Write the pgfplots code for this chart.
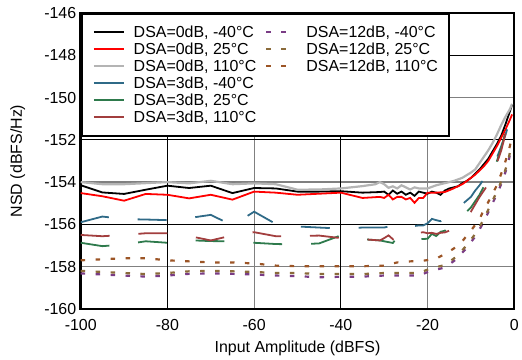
\documentclass[border=0pt]{standalone}
\usepackage{fontspec}
\setmainfont{Liberation Sans}
\usepackage{pgfplots}
\pgfplotsset{compat=1.18}
\definecolor{c3a}{HTML}{2F6A87}
\definecolor{c3b}{HTML}{2E7A4C}
\definecolor{c3c}{HTML}{A23E3E}
\definecolor{c12a}{HTML}{7A3C85}
\definecolor{c12b}{HTML}{8A6A3A}
\definecolor{c12c}{HTML}{9C5526}
\definecolor{gline}{HTML}{B4B4B4}
\definecolor{ggrid}{HTML}{808080}
\begin{document}
\begin{tikzpicture}
\begin{axis}[
  scale only axis, width=435pt, height=297pt,
  at={(0,0)}, anchor=south west,
  xmin=-100, xmax=0, ymin=-160, ymax=-146,
  xtick={-100,-80,...,0}, ytick={-160,-158,...,-146},
  major tick length=0pt,
  /pgf/number format/assume math mode=true,
  tick label style={font=\fontsize{16}{18}\selectfont},
  xticklabel style={yshift=-7pt},
  yticklabel style={xshift=-1pt},
  xlabel={Input Amplitude (dBFS)}, ylabel={NSD (dBFS/Hz)},
  every axis x label/.style={at={(axis description cs:0.5,0)}, yshift=-40pt, anchor=center, font=\fontsize{16}{18}\selectfont},
  every axis y label/.style={at={(axis description cs:-0.145,0.5)}, rotate=90, anchor=center, font=\fontsize{16}{18}\selectfont},
  axis line style={line width=2.5pt},
  grid=major, major grid style={ggrid, line width=1.2pt},
  extra x ticks={-80,-40}, extra x tick labels={},
  extra y ticks={-156,-152,-148}, extra y tick labels={},
  extra tick style={grid=major, major grid style={black, line width=0.9pt}},
  legend style={at={(rel axis cs:0,1)}, anchor=north west, draw=black, line width=2pt,
    fill=white, font=\fontsize{16}{17}\selectfont, inner xsep=11pt, inner ysep=10pt,
    nodes={inner sep=0pt, text height=14pt, text depth=3pt},
    column sep=9pt},
  legend cell align=left,
  legend columns=2,
  legend image code/.code={\draw[#1] (0pt,0pt) -- (30pt,0pt);},
]
% 0dB -40C
\addplot[forget plot, color=black, line width=1.8pt] table {
-100 -154.15
-95 -154.49
-90 -154.56
-85 -154.36
-80 -154.17
-75 -154.28
-70 -154.17
-65 -154.52
-60 -154.28
-55 -154.3
-50 -154.45
-45 -154.45
-40 -154.43
-35 -154.5
-31 -154.47
-30 -154.45
-29 -154.6
-28 -154.4
-27 -154.55
-26 -154.45
-25 -154.6
-24 -154.5
-23 -154.65
-22 -154.45
-21 -154.5
-20 -154.55
-19 -154.45
-18 -154.5
-17 -154.6
-16 -154.4
-15 -154.3
-14 -154.25
-13 -154.2
-12 -154.05
-11 -153.95
-10 -153.8
-9 -153.6
-8 -153.4
-7 -153.15
-6 -152.9
-5 -152.55
-4 -152.2
-3 -151.8
-2 -151.25
-1 -150.65
-0.5 -150.35
};
% 0dB 25C
\addplot[forget plot, color=red, line width=1.8pt] table {
-100 -154.52
-95 -154.67
-90 -154.88
-85 -154.56
-80 -154.6
-75 -154.77
-70 -154.6
-65 -154.83
-60 -154.45
-55 -154.5
-50 -154.6
-45 -154.55
-40 -154.5
-35 -154.75
-31 -154.7
-30 -154.75
-29 -154.6
-28 -154.82
-27 -154.7
-26 -154.7
-25 -154.82
-24 -154.75
-23 -154.98
-22 -154.75
-21 -154.75
-20 -154.5
-18 -154.5
-16 -154.47
-14 -154.3
-12 -154.1
-11 -153.96
-10 -153.8
-9 -153.65
-8 -153.45
-7 -153.25
-6 -153.0
-5 -152.65
-4 -152.3
-3 -151.9
-2 -151.5
-1 -151.05
-0.5 -150.8
};
% 0dB 110C
\addplot[forget plot, color=gline, line width=2.2pt] table {
-100 -154.0
-95 -154.1
-90 -154.1
-85 -154.05
-80 -154.0
-75 -154.06
-70 -153.94
-65 -154.1
-60 -154.06
-55 -154.1
-50 -154.36
-45 -154.35
-40 -154.3
-35 -154.19
-32 -154.1
-31 -154.0
-30 -154.1
-29 -154.27
-28 -154.2
-27 -154.3
-26 -154.15
-25 -154.25
-24 -154.35
-23 -154.25
-22 -154.3
-21 -154.3
-20 -154.3
-18 -154.15
-16 -154.05
-14 -153.95
-12 -153.8
-10 -153.55
-9 -153.4
-8 -153.1
-7 -152.8
-6 -152.5
-5 -152.15
-4 -151.75
-3 -151.3
-2 -150.9
-1 -150.55
-0.5 -150.3
};
% 3dB -40C
\addplot[forget plot, color=c3a, line width=1.8pt, dash pattern=on 29pt off 29pt] table {
-100 -155.9
-95 -155.63
-90 -155.75
-85 -155.77
-80 -155.8
-75 -155.7
-70 -155.55
-65 -156.05
-60 -155.4
-55 -155.98
-50 -156.1
-45 -156.15
-40 -156.2
-35 -156.15
-31 -156.15
-30 -156.15
-29 -156.1
-28 -156.0
-27 -156.1
-26 -156.05
-24 -156.1
-22 -156.05
-21 -156.05
-20 -155.95
-19 -155.74
-18 -155.8
-17 -155.85
-16 -155.7
-15 -155.5
-14 -155.35
-12 -155.05
-10 -154.7
-9 -154.4
-8 -154.15
-7 -153.85
-6 -153.6
-5 -153.3
-4 -152.85
-3 -152.3
-2 -151.75
-1 -151.05
-0.5 -150.6
};
% 3dB 25C
\addplot[forget plot, color=c3b, line width=1.8pt, dash pattern=on 29pt off 29pt] table {
-100 -156.87
-95 -157.03
-90 -156.95
-85 -156.8
-80 -156.87
-75 -156.75
-70 -156.79
-65 -156.8
-60 -156.87
-55 -156.93
-50 -156.95
-45 -156.9
-40 -156.52
-35 -156.7
-31 -156.76
-30 -156.8
-28 -156.88
-27 -156.6
-25 -156.65
-22 -156.7
-20 -156.68
-19 -156.45
-18 -156.55
-17 -156.35
-16 -156.3
-15 -156.1
-14 -155.9
-12 -155.6
-10 -155.2
-9 -154.9
-8 -154.6
-7 -154.2
-6 -153.9
-5 -153.5
-4 -153.0
-3 -152.4
-2 -151.6
-1 -151.0
-0.5 -150.6
};
% 3dB 110C
\addplot[forget plot, color=c3c, line width=1.8pt, dash pattern=on 29pt off 29pt] table {
-100 -156.5
-95 -156.56
-90 -156.5
-85 -156.42
-80 -156.42
-75 -156.55
-70 -156.76
-65 -156.52
-60 -156.37
-55 -156.56
-50 -156.55
-45 -156.53
-40 -156.65
-35 -156.7
-31 -156.76
-30 -156.65
-29 -156.52
-28 -156.7
-27 -156.52
-25 -156.5
-22 -156.4
-21 -156.37
-20 -156.42
-19 -156.4
-18 -156.45
-17 -156.4
-16 -156.38
-15 -156.3
-14 -156.1
-12 -155.85
-11 -155.6
-10 -155.4
-9 -155.05
-8 -154.7
-7 -154.4
-6 -154.1
-5 -153.6
-4 -153.1
-3 -152.5
-2 -151.7
-1 -151.2
-0.5 -151.0
};
% 12dB -40C
\addplot[forget plot, color=c12a, line width=2.2pt, dash pattern=on 4.5pt off 10.5pt] table {
-100 -158.32
-95 -158.37
-90 -158.42
-85 -158.47
-80 -158.42
-75 -158.34
-70 -158.32
-65 -158.34
-60 -158.37
-55 -158.42
-50 -158.45
-45 -158.5
-40 -158.48
-35 -158.47
-30 -158.42
-25 -158.42
-22 -158.42
-19.5 -158.22
-16 -158.04
-13.5 -157.67
-11 -157.12
-8.7 -156.49
-7 -155.87
-5.2 -155.08
-3.7 -154.45
-2.5 -153.82
-1.5 -153.19
-0.8 -152.52
};
% 12dB 25C
\addplot[forget plot, color=c12b, line width=2.2pt, dash pattern=on 4.5pt off 10.5pt] table {
-100 -158.2
-95 -158.25
-90 -158.3
-85 -158.35
-80 -158.3
-75 -158.22
-70 -158.2
-65 -158.22
-60 -158.25
-55 -158.3
-50 -158.3
-45 -158.35
-40 -158.35
-35 -158.35
-30 -158.3
-25 -158.3
-22 -158.3
-19.5 -158.1
-16 -157.92
-13.5 -157.55
-11 -157.0
-8.7 -156.37
-7 -155.75
-5.2 -154.96
-3.7 -154.33
-2.5 -153.7
-1.5 -153.07
-0.8 -152.4
};
% 12dB 110C
\addplot[forget plot, color=c12c, line width=2.2pt, dash pattern=on 4.5pt off 10.5pt] table {
-100 -157.7
-95 -157.65
-90 -157.6
-85 -157.6
-80 -157.7
-75 -157.75
-70 -157.8
-65 -157.8
-60 -157.85
-55 -157.95
-50 -157.98
-45 -157.98
-40 -157.98
-35 -157.98
-30 -157.95
-27 -157.8
-24 -157.75
-21 -157.72
-18 -157.62
-16 -157.4
-14 -157.15
-12 -156.8
-10 -156.3
-8 -155.75
-7 -155.3
-6 -154.95
-5 -154.55
-4 -154.15
-3 -153.6
-2 -153.0
-1 -152.3
-0.5 -151.7
};
\addlegendimage{color=black, line width=1.8pt}
\addlegendentry{DSA=0dB, -40°C}
\addlegendimage{color=c12a, line width=2.2pt, dash pattern=on 4.5pt off 10.5pt}
\addlegendentry{DSA=12dB, -40°C}
\addlegendimage{color=red, line width=1.8pt}
\addlegendentry{DSA=0dB, 25°C}
\addlegendimage{color=c12b, line width=2.2pt, dash pattern=on 4.5pt off 10.5pt}
\addlegendentry{DSA=12dB, 25°C}
\addlegendimage{color=gline, line width=2.2pt}
\addlegendentry{DSA=0dB, 110°C}
\addlegendimage{color=c12c, line width=2.2pt, dash pattern=on 4.5pt off 10.5pt}
\addlegendentry{DSA=12dB, 110°C}
\addlegendimage{color=c3a, line width=1.8pt}
\addlegendentry{DSA=3dB, -40°C}
\addlegendimage{empty legend}
\addlegendentry{}
\addlegendimage{color=c3b, line width=1.8pt}
\addlegendentry{DSA=3dB, 25°C}
\addlegendimage{empty legend}
\addlegendentry{}
\addlegendimage{color=c3c, line width=1.8pt}
\addlegendentry{DSA=3dB, 110°C}
\end{axis}
\path (-81pt,-48pt) rectangle (441pt,310pt);
\end{tikzpicture}
\end{document}
